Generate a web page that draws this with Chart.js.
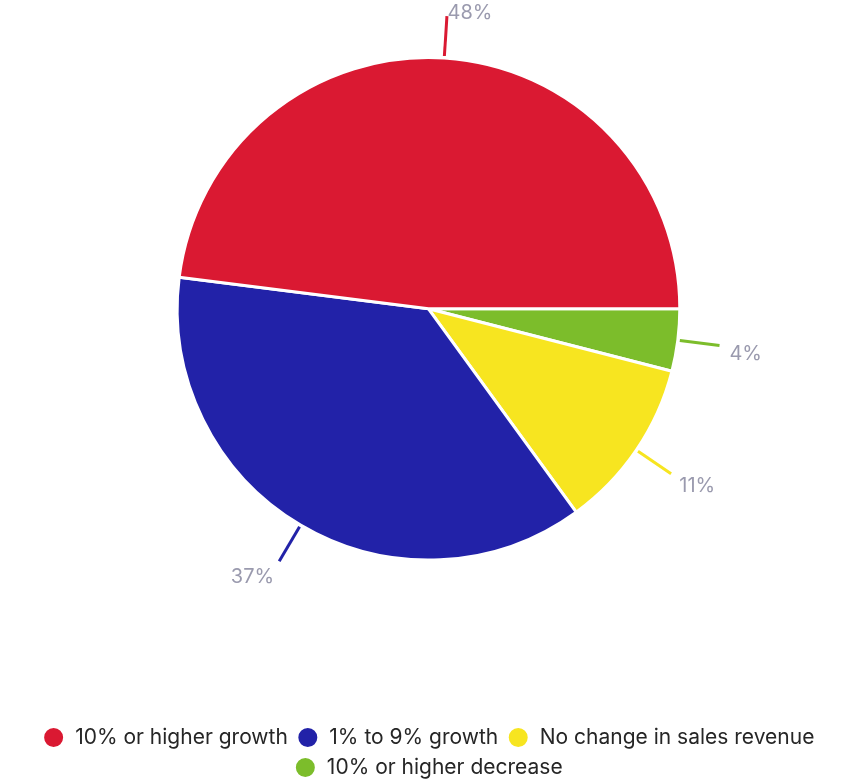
<!DOCTYPE html>
<html>
<head>
<meta charset="utf-8">
<script src="https://cdn.jsdelivr.net/npm/chart.js@4.4.1/dist/chart.umd.min.js"></script>
<style>
  html, body { margin: 0; padding: 0; background: #fff; }
  #wrap { width: 854px; height: 780px; position: relative; }
</style>
</head>
<body>
<div id="wrap"><canvas id="chart-revenue"></canvas></div>
<script>
// listed clockwise from 3 o'clock; the legend is reversed so it reads top-down
var categories = ["10% or higher decrease", "No change in sales revenue", "1% to 9% growth", "10% or higher growth"];
var shares = [4, 11, 37, 48];
var sliceColors = ["#7cbd2b", "#f7e520", "#2222a8", "#da1932"];

var FONT = "Inter, 'Noto Sans', sans-serif";

// percentage labels outside the pie with short leader lines
var outsideLabels = {
    id: 'outsideLabels',
    afterDatasetsDraw: function (chart) {
        var ctx = chart.ctx;
        var meta = chart.getDatasetMeta(0);
        ctx.save();
        meta.data.forEach(function (arc, i) {
            var mid = (arc.startAngle + arc.endAngle) / 2;
            var cos = Math.cos(mid), sin = Math.sin(mid);
            var r = arc.outerRadius;
            var x1 = arc.x + cos * (r + 2), y1 = arc.y + sin * (r + 2);
            var x2 = arc.x + cos * (r + 42), y2 = arc.y + sin * (r + 42);
            ctx.strokeStyle = sliceColors[i];
            ctx.lineWidth = 3;
            ctx.beginPath();
            ctx.moveTo(x1, y1);
            ctx.lineTo(x2, y2);
            ctx.stroke();

            ctx.fillStyle = '#9a9aae';
            ctx.font = '20px ' + FONT;
            ctx.textBaseline = 'middle';
            ctx.textAlign = cos >= 0 ? 'left' : 'right';
            var tx = x2 + (cos >= 0 ? 1 : -1) * 10 * Math.abs(cos);
            var ty = y2 + 7 + 10 * sin;
            ctx.fillText(shares[i] + '%', tx, ty);
        });
        ctx.restore();
    }
};

new Chart(document.getElementById('chart-revenue'), {
    type: 'pie',
    data: {
        labels: categories,
        datasets: [{
            data: shares,
            backgroundColor: sliceColors,
            borderColor: '#ffffff',
            borderWidth: 3,
            hoverOffset: 0
        }]
    },
    options: {
        responsive: true,
        maintainAspectRatio: false,
        animation: false,
        rotation: 90,
        layout: { padding: { top: 56, bottom: -8, left: 3 } },
        plugins: {
            tooltip: { enabled: false },
            legend: {
                position: 'bottom',
                reverse: true,
                title: { display: true, text: '', padding: { top: 142, bottom: 0 } },
                labels: {
                    usePointStyle: true,
                    pointStyle: 'circle',
                    pointStyleWidth: 22,
                    boxHeight: 15.5,
                    padding: 9,
                    color: '#262626',
                    font: { family: FONT, size: 21 }
                }
            }
        }
    },
    plugins: [outsideLabels]
});
</script>
</body>
</html>
